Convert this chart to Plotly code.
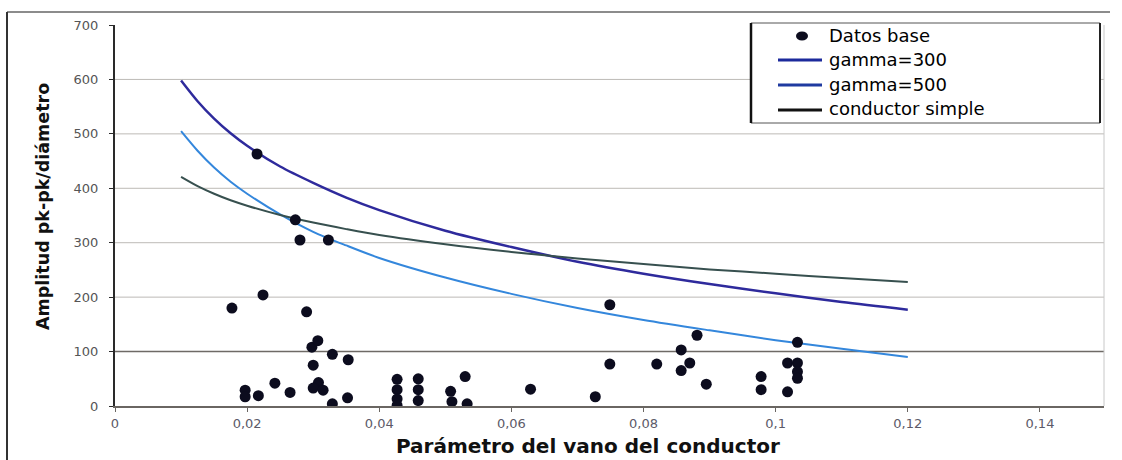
import plotly.graph_objects as go

# Measured base data: span parameter vs. peak-to-peak amplitude / diameter
datos_x = [0.0177, 0.0197, 0.0197, 0.0217, 0.0215, 0.0224, 0.0242, 0.0265, 0.0273, 0.0280,
           0.0290, 0.0298, 0.0307, 0.0300, 0.0308, 0.0300, 0.0315, 0.0323, 0.0329, 0.0353,
           0.0352, 0.0329, 0.0427, 0.0427, 0.0427, 0.0427, 0.0459, 0.0459, 0.0459, 0.0508,
           0.0510, 0.0530, 0.0533, 0.0629, 0.0727, 0.0749, 0.0749, 0.0820, 0.0857, 0.0870,
           0.0857, 0.0881, 0.0895, 0.0978, 0.0978, 0.1018, 0.1033, 0.1033, 0.1033, 0.1018,
           0.1033]
datos_y = [180, 29, 17, 19, 463, 204, 42, 25, 342, 305,
           173, 108, 120, 75, 43, 33, 29, 305, 95, 85,
           15, 4, 49, 30, 13, 1, 50, 30, 10, 27,
           8, 54, 4, 31, 17, 186, 77, 77, 103, 79,
           65, 130, 40, 54, 30, 79, 79, 63, 51, 26,
           117]

# Model curves
curva_x = [0.01, 0.0125, 0.015, 0.0175, 0.02, 0.025, 0.03, 0.035, 0.04, 0.05, 0.06, 0.07, 0.08,
           0.09, 0.10, 0.11, 0.12]
gamma300 = [598, 560, 528, 501, 478, 440, 410, 383, 360, 322, 292, 265, 243, 224, 207, 191, 177]
gamma500 = [505, 469, 438, 412, 390, 352, 320, 295, 272, 236, 206, 180, 158, 139, 121, 105, 90]
conductor_simple = [421, 404, 390, 378, 368, 351, 337, 325, 314, 297, 283, 271, 261, 251, 243,
                    235, 228]

x_ticks = [0, 0.02, 0.04, 0.06, 0.08, 0.10, 0.12, 0.14]
x_tick_text = ["0", "0,02", "0,04", "0,06", "0,08", "0,1", "0,12", "0,14"]
y_ticks = [0, 100, 200, 300, 400, 500, 600, 700]
grid_y = [100, 200, 300, 400, 500, 600]

legend_names = ["Datos base", "gamma=300", "gamma=500", "conductor simple"]

W, H = 1122, 460
ML, MR, MT, MB = 115, 18, 25, 54
PW, PH = W - ML - MR, H - MT - MB


def px(xp):
    return (xp - ML) / PW


def py(yp):
    return (H - MB - yp) / PH


fig = go.Figure()

fig.add_trace(go.Scatter(
    x=curva_x, y=gamma300, mode="lines", name=legend_names[1],
    line=dict(color="#2e2a9c", width=2.5, shape="spline", smoothing=0.8)))
fig.add_trace(go.Scatter(
    x=curva_x, y=gamma500, mode="lines", name=legend_names[2],
    line=dict(color="#3487dc", width=2, shape="spline", smoothing=0.8)))
fig.add_trace(go.Scatter(
    x=curva_x, y=conductor_simple, mode="lines", name=legend_names[3],
    line=dict(color="#37504f", width=2, shape="spline", smoothing=0.8)))
fig.add_trace(go.Scatter(
    x=datos_x, y=datos_y, mode="markers", name=legend_names[0],
    marker=dict(symbol="circle", size=11, color="#0c0c1e")))

shapes = []
# horizontal gridlines
for g in grid_y:
    shapes.append(dict(type="line", xref="paper", yref="y", x0=0, x1=1, y0=g, y1=g,
                       line=dict(color="#6e6a66" if g == 100 else "#bdbab6",
                                 width=1.5 if g == 100 else 1),
                       layer="below"))
# right edge of plot area
shapes.append(dict(type="line", xref="paper", yref="paper", x0=1, x1=1, y0=0, y1=1,
                   line=dict(color="#c8c8c8", width=1)))
# outer chart frame
shapes.append(dict(type="line", xref="paper", yref="paper", x0=px(7), x1=px(1110),
                   y0=py(12), y1=py(12), line=dict(color="#666666", width=1.5)))
shapes.append(dict(type="line", xref="paper", yref="paper", x0=px(7), x1=px(7),
                   y0=py(12), y1=py(462), line=dict(color="#333333", width=2)))

# legend box
shapes.append(dict(type="rect", xref="paper", yref="paper", x0=px(751), x1=px(1100),
                   y0=py(123), y1=py(23), line=dict(color="#555555", width=1),
                   fillcolor="white", layer="above"))
shapes.append(dict(type="line", xref="paper", yref="paper", x0=px(751), x1=px(751),
                   y0=py(123), y1=py(23), line=dict(color="#111111", width=2.5)))
shapes.append(dict(type="line", xref="paper", yref="paper", x0=px(1100), x1=px(1100),
                   y0=py(123), y1=py(23), line=dict(color="#222222", width=2)))
# legend glyphs
shapes.append(dict(type="circle", xref="paper", yref="paper", x0=px(796), x1=px(808),
                   y0=py(40.5), y1=py(31.5), line=dict(width=0), fillcolor="#0c0c1e"))
legend_glyphs = [(60, "#1c2a9c"), (85, "#1f3aa0"), (110, "#111111")]
for yy, col in legend_glyphs:
    shapes.append(dict(type="line", xref="paper", yref="paper", x0=px(778), x1=px(822),
                       y0=py(yy), y1=py(yy), line=dict(color=col, width=3)))

legend_text_y = [36, 60, 84, 108]
annotations = [
    dict(text="<b>Parámetro del vano del conductor</b>", xref="paper", yref="paper",
         x=px(588), y=py(446), xanchor="center", yanchor="middle", showarrow=False,
         font=dict(family="DejaVu Sans, sans-serif", size=20, color="#111111")),
    dict(text="<b>Amplitud pk-pk/diámetro</b>", xref="paper", yref="paper",
         x=px(43), y=py(207), xanchor="center", yanchor="middle", showarrow=False,
         textangle=-90,
         font=dict(family="DejaVu Sans, sans-serif", size=17.5, color="#111111")),
]
for name, yy in zip(legend_names, legend_text_y):
    annotations.append(dict(text=name, xref="paper", yref="paper", x=px(828), y=py(yy),
                            xanchor="left", yanchor="middle", showarrow=False,
                            borderpad=0,
                            font=dict(family="DejaVu Sans, sans-serif", size=18,
                                      color="#000000")))

fig.update_layout(
    width=W, height=H,
    margin=dict(l=ML, r=MR, t=MT, b=MB),
    paper_bgcolor="white", plot_bgcolor="white",
    font=dict(family="DejaVu Sans, sans-serif", color="#000000"),
    shapes=shapes,
    annotations=annotations,
    showlegend=False,
    xaxis=dict(
        range=[0, 0.1497], tickvals=x_ticks, ticktext=x_tick_text,
        showgrid=False, zeroline=False,
        showline=True, linecolor="#6a6662", linewidth=2,
        ticks="outside", ticklen=4, tickcolor="#6a6662",
        tickfont=dict(family="DejaVu Sans, sans-serif", size=13, color="#5c5a68"),
    ),
    yaxis=dict(
        range=[0, 700], tickvals=y_ticks,
        showgrid=False, zeroline=False,
        showline=True, linecolor="#2a2a2a", linewidth=2,
        ticks="outside", ticklen=4, tickcolor="#2a2a2a",
        ticklabelstandoff=8,
        tickfont=dict(family="DejaVu Sans, sans-serif", size=13, color="#555555"),
    ),
)

fig.write_html("out.html")
